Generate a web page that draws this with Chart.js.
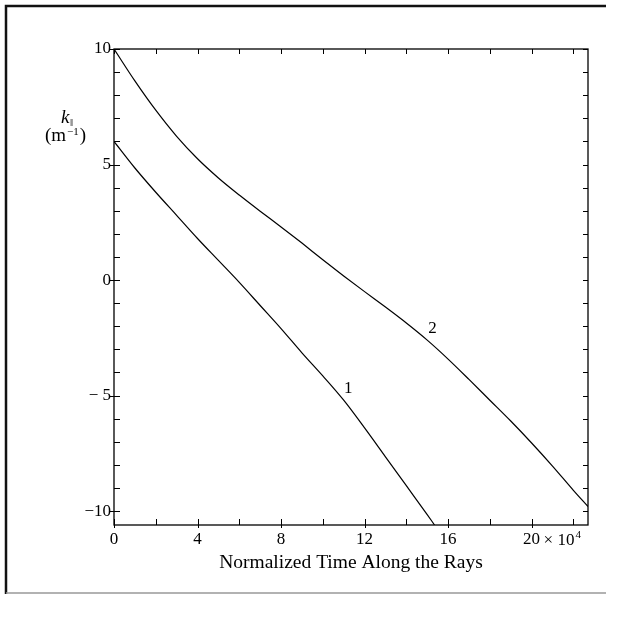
<!DOCTYPE html>
<html>
<head>
<meta charset="utf-8">
<script src="https://cdn.jsdelivr.net/npm/chart.js@4"></script>
<style>
  html, body { margin: 0; padding: 0; background: #fff; }
  canvas { display: block; }
</style>
</head>
<body>
<canvas id="rayChart" width="621" height="618"></canvas>
<script>
// k_parallel along the two rays, time in units of 10^4
var time1 = [0, 1, 2, 3, 4, 5, 6, 7, 8, 9, 10, 11, 12, 13, 14, 15, 15.35];
var kpar1 = [6, 4.85, 3.8, 2.8, 1.8, 0.85, -0.1, -1.1, -2.1, -3.15, -4.15, -5.2, -6.4, -7.65, -8.9, -10.15, -10.6];

var time2 = [0, 1, 2, 3, 4, 5, 6, 7, 8, 9, 10, 11, 12, 13, 14, 15, 16, 17, 18, 19, 20, 21, 22, 22.7];
var kpar2 = [10, 8.62, 7.35, 6.22, 5.25, 4.42, 3.68, 2.98, 2.3, 1.6, 0.88, 0.18, -0.5, -1.17, -1.86, -2.6, -3.42, -4.3, -5.2, -6.1, -7.05, -8.05, -9.1, -9.8];

// axis ticks
var xMajor = [0, 4, 8, 12, 16, 20];
var xMinor = [2, 6, 10, 14, 18, 22];
var yMajor = [-10, -5, 0, 5, 10];
var yMinor = [-9, -8, -7, -6, -4, -3, -2, -1, 1, 2, 3, 4, 6, 7, 8, 9];

var serif = '"Liberation Serif", "DejaVu Serif", serif';

function toPoints(xs, ys) {
    return xs.map(function (x, i) { return { x: x, y: ys[i] }; });
}

// frame, inward tick marks and the hand-set labels
var decorations = {
    id: 'decorations',
    afterDraw: function (chart) {
        var ctx = chart.ctx;
        var xs = chart.scales.x, ys = chart.scales.y;
        var a = chart.chartArea;

        ctx.save();
        ctx.strokeStyle = '#000';
        ctx.lineWidth = 1.3;
        ctx.strokeRect(a.left, a.top, a.right - a.left, a.bottom - a.top);

        ctx.lineWidth = 1;
        ctx.beginPath();
        xMajor.concat(xMinor).forEach(function (v) {
            var px = Math.round(xs.getPixelForValue(v)) + 0.5;
            var out = xMajor.indexOf(v) >= 0 ? 3 : 0;
            ctx.moveTo(px, a.bottom + out); ctx.lineTo(px, a.bottom - 6);
            ctx.moveTo(px, a.top); ctx.lineTo(px, a.top + 5);
        });
        yMajor.concat(yMinor).forEach(function (v) {
            var py = Math.round(ys.getPixelForValue(v)) + 0.5;
            var out = yMajor.indexOf(v) >= 0 ? 4 : 0;
            ctx.moveTo(a.left - out, py); ctx.lineTo(a.left + 6, py);
            ctx.moveTo(a.right, py); ctx.lineTo(a.right - 5, py);
        });
        ctx.stroke();

        ctx.fillStyle = '#000';
        ctx.textBaseline = 'alphabetic';
        ctx.textAlign = 'left';

        // exponent after the last x label
        var px20 = xs.getPixelForValue(20);
        ctx.font = '17px ' + serif;
        var times = '\u00d7 10';
        ctx.fillText(times, px20 + 12, 545);
        var tw = ctx.measureText(times).width;
        ctx.font = '11px ' + serif;
        ctx.fillText('4', px20 + 13 + tw, 538);

        // y axis label: k_parallel over (m^-1)
        ctx.font = 'italic 19px ' + serif;
        ctx.fillText('k', 61, 123);
        ctx.font = '11px ' + serif;
        ctx.fillText('\u2016', 70, 126);
        var lx = 45, ly = 141;
        ctx.font = '19px ' + serif;
        ctx.fillText('(m', lx, ly);
        lx += ctx.measureText('(m').width + 1;
        ctx.font = '11px ' + serif;
        ctx.fillText('\u22121', lx, ly - 6);
        lx += ctx.measureText('\u22121').width + 1;
        ctx.font = '19px ' + serif;
        ctx.fillText(')', lx, ly);

        // curve numbers
        ctx.font = '17px ' + serif;
        ctx.textAlign = 'center';
        ctx.fillText('1', xs.getPixelForValue(11.22), ys.getPixelForValue(-4.87));
        ctx.fillText('2', xs.getPixelForValue(15.25), ys.getPixelForValue(-2.3));

        // page border
        ctx.strokeStyle = '#111';
        ctx.lineWidth = 2.5;
        ctx.beginPath();
        ctx.moveTo(6, 594); ctx.lineTo(6, 6); ctx.lineTo(606, 6);
        ctx.stroke();
        ctx.strokeStyle = '#999';
        ctx.lineWidth = 1.5;
        ctx.beginPath();
        ctx.moveTo(6, 593); ctx.lineTo(606, 593);
        ctx.stroke();
        ctx.restore();
    }
};

var ctx = document.getElementById('rayChart').getContext('2d');
var rayChart = new Chart(ctx, {
    type: 'scatter',
    data: {
        datasets: [{
            label: '1',
            data: toPoints(time1, kpar1),
            showLine: true,
            borderColor: '#000',
            borderWidth: 1.2,
            pointRadius: 0,
            cubicInterpolationMode: 'monotone'
        }, {
            label: '2',
            data: toPoints(time2, kpar2),
            showLine: true,
            borderColor: '#000',
            borderWidth: 1.2,
            pointRadius: 0,
            cubicInterpolationMode: 'monotone'
        }]
    },
    options: {
        responsive: false,
        animation: false,
        layout: { padding: { left: 0, top: 49, right: 33, bottom: 39 } },
        plugins: {
            legend: { display: false },
            tooltip: { enabled: false }
        },
        scales: {
            x: {
                type: 'linear',
                min: 0,
                max: 22.7,
                grid: { display: false, drawTicks: false },
                border: { display: false },
                afterBuildTicks: function (scale) {
                    scale.ticks = xMajor.map(function (v) { return { value: v }; });
                },
                afterFit: function (scale) { scale.height = 54; },
                ticks: {
                    color: '#000',
                    padding: 4,
                    font: { family: serif, size: 17 }
                },
                title: {
                    display: true,
                    text: 'Normalized Time Along the Rays',
                    color: '#000',
                    padding: { top: 2 },
                    font: { family: serif, size: 19.5 }
                }
            },
            y: {
                type: 'linear',
                min: -10.6,
                max: 10,
                grid: { display: false, drawTicks: false },
                border: { display: false },
                afterBuildTicks: function (scale) {
                    scale.ticks = yMajor.map(function (v) { return { value: v }; });
                },
                afterFit: function (scale) { scale.width = 114; },
                ticks: {
                    color: '#000',
                    padding: 3,
                    font: { family: serif, size: 17 },
                    callback: function (v) {
                        if (v === -5) return '\u2212 5';
                        if (v < 0) return '\u2212' + Math.abs(v);
                        return String(v);
                    }
                }
            }
        }
    },
    plugins: [decorations]
});
</script>
</body>
</html>
